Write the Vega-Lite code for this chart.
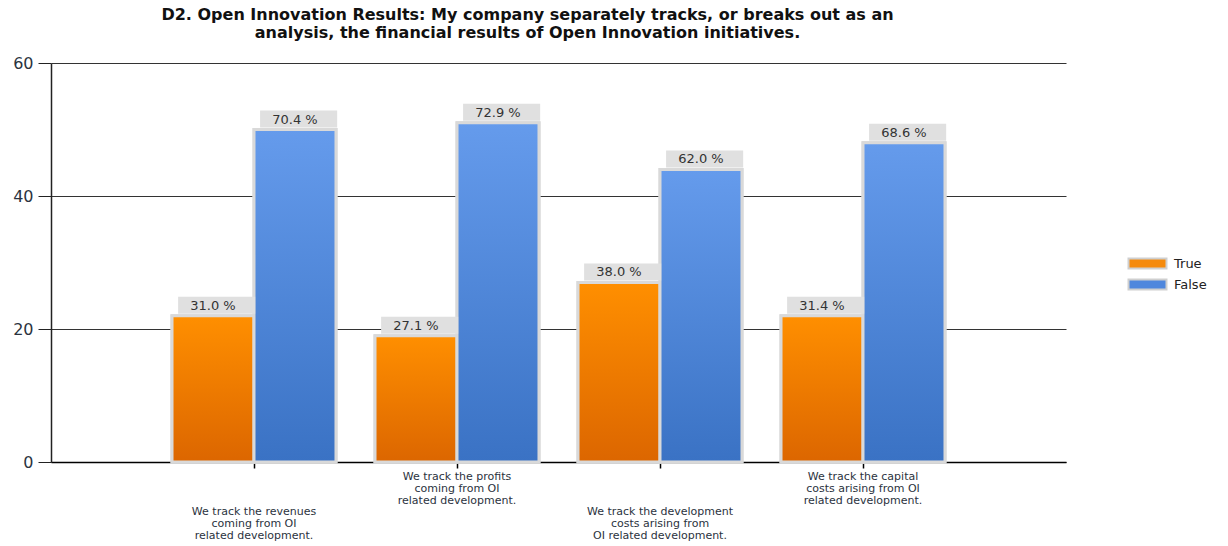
{
  "$schema": "https://vega.github.io/schema/vega-lite/v6.json",
  "autosize": "none",
  "width": 1015,
  "height": 399,
  "padding": {"left": 51, "top": 63, "right": 162, "bottom": 84},
  "background": "#ffffff",
  "title": {
    "text": ["D2. Open Innovation Results: My company separately tracks, or breaks out as an", "analysis, the financial results of Open Innovation initiatives."],
    "font": "DejaVu Sans",
    "fontSize": 16,
    "fontWeight": "bold",
    "color": "#111111",
    "lineHeight": 18.5,
    "anchor": "middle",
    "dx": -31,
    "offset": 14
  },
  "data": {
    "values": [
      {"q": "We track the revenues|coming from OI|related development.", "answer": "True", "count": 22, "pct": "31.0 %"},
      {"q": "We track the revenues|coming from OI|related development.", "answer": "False", "count": 50, "pct": "70.4 %"},
      {"q": "We track the profits|coming from OI|related development.", "answer": "True", "count": 19, "pct": "27.1 %"},
      {"q": "We track the profits|coming from OI|related development.", "answer": "False", "count": 51, "pct": "72.9 %"},
      {"q": "We track the development|costs arising from|OI related development.", "answer": "True", "count": 27, "pct": "38.0 %"},
      {"q": "We track the development|costs arising from|OI related development.", "answer": "False", "count": 44, "pct": "62.0 %"},
      {"q": "We track the capital|costs arising from OI|related development.", "answer": "True", "count": 22, "pct": "31.4 %"},
      {"q": "We track the capital|costs arising from OI|related development.", "answer": "False", "count": 48, "pct": "68.6 %"}
    ]
  },
  "encoding": {
    "x": {
      "field": "q",
      "type": "nominal",
      "sort": null,
      "scale": {"paddingInner": 0, "paddingOuter": 0.5},
      "axis": {
        "title": null,
        "labelAngle": 0,
        "bandPosition": 0.5,
        "labelExpr": "split(datum.value, '|')",
        "labelFont": "DejaVu Sans",
        "labelFontSize": 11,
        "labelLineHeight": 12,
        "labelColor": "#2b3340",
        "labelBaseline": "top",
        "labelPadding": {
          "condition": {"test": "indexof(datum.value, 'revenues') >= 0 || indexof(datum.value, 'development|costs') >= 0", "value": 37},
          "value": 2
        },
        "labelLimit": 400,
        "domainColor": "#000000",
        "domainWidth": 1.5,
        "tickColor": "#000000",
        "tickWidth": 1.5,
        "tickSize": 6,
        "grid": false
      }
    },
    "xOffset": {
      "field": "answer",
      "type": "nominal",
      "sort": ["True", "False"],
      "scale": {"paddingInner": 0, "paddingOuter": 0.238}
    },
    "y": {
      "field": "count",
      "type": "quantitative",
      "scale": {"domain": [0, 60], "nice": false},
      "axis": {
        "title": null,
        "values": [0, 20, 40, 60],
        "labelFont": "DejaVu Sans",
        "labelFontSize": 16,
        "labelColor": "#2b3340",
        "labelPadding": 5,
        "tickSize": 13,
        "tickColor": "#222222",
        "tickWidth": 1,
        "domainColor": "#222222",
        "domainWidth": 1.5,
        "grid": true,
        "gridColor": "#333333",
        "gridWidth": 1
      }
    }
  },
  "layer": [
    {
      "mark": {"type": "bar", "stroke": "#d9d9d9", "strokeWidth": 3},
      "encoding": {
        "color": {
          "field": "answer",
          "type": "nominal",
          "sort": ["True", "False"],
          "scale": {"domain": ["True", "False"], "range": ["#f58a0c", "#4f87dd"]},
          "legend": {
            "title": null,
            "orient": "none",
            "legendX": 1090,
            "legendY": 194,
            "symbolType": "M-3.8,-1H3.8V1H-3.8Z",
            "symbolSize": 100,
            "symbolStrokeColor": "#cfcfcf",
            "symbolStrokeWidth": 2,
            "symbolOpacity": 1,
            "labelFont": "DejaVu Sans",
            "labelFontSize": 13,
            "labelColor": "#222222",
            "labelOffset": 20,
            "rowPadding": 2
          }
        }
      }
    },
    {
      "mark": {"type": "bar", "stroke": "#d9d9d9", "strokeWidth": 3},
      "encoding": {
        "fill": {
          "condition": {
            "test": "datum.answer === 'True'",
            "value": {"gradient": "linear", "x1": 0, "y1": 0, "x2": 0, "y2": 1, "stops": [{"offset": 0, "color": "#ff8f00"}, {"offset": 1, "color": "#dc6600"}]}
          },
          "value": {"gradient": "linear", "x1": 0, "y1": 0, "x2": 0, "y2": 1, "stops": [{"offset": 0, "color": "#659bec"}, {"offset": 1, "color": "#3a72c4"}]}
        }
      }
    },
    {
      "mark": {"type": "bar", "color": "#e0e0e0", "yOffset": -19, "y2Offset": -2, "width": {"band": 0.94}},
      "encoding": {
        "y2": {"field": "count"}
      }
    },
    {
      "mark": {"type": "text", "font": "DejaVu Sans", "fontSize": 13, "color": "#333333", "baseline": "middle", "yOffset": -10},
      "encoding": {
        "text": {"field": "pct", "type": "nominal"}
      }
    }
  ],
  "config": {
    "view": {"stroke": null}
  }
}
